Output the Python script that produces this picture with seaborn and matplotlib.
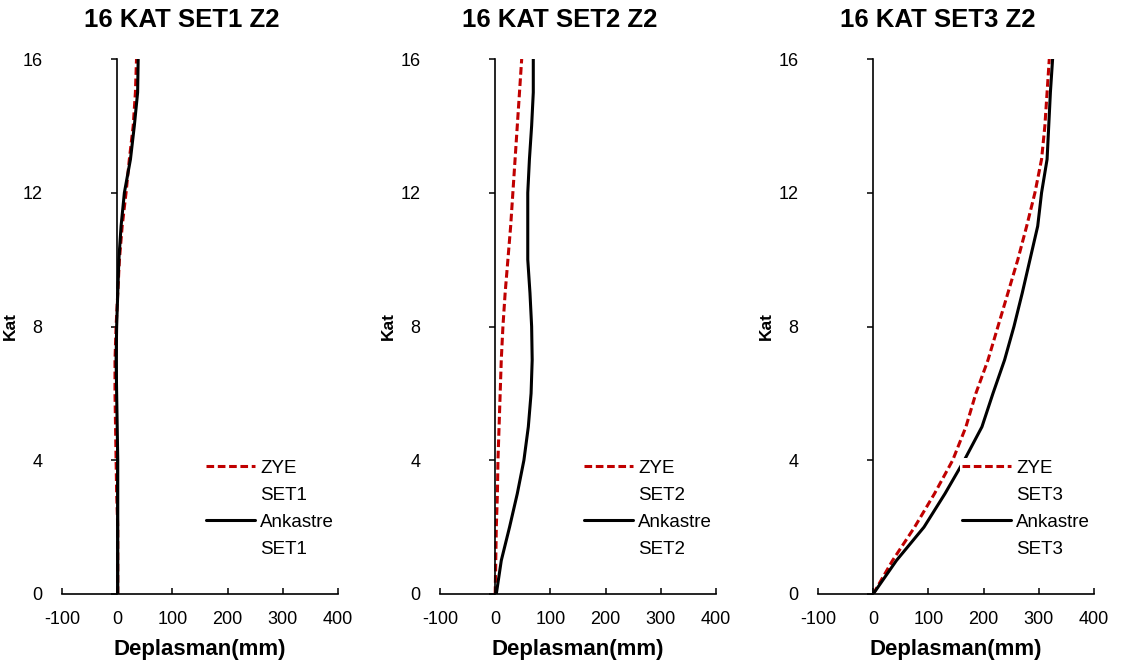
import matplotlib
matplotlib.use("Agg")
import matplotlib.pyplot as plt
import seaborn as sns
from matplotlib.lines import Line2D

# ---- data ----
floors = list(range(17))
titles = ["16 KAT SET1 Z2", "16 KAT SET2 Z2", "16 KAT SET3 Z2"]
set_names = ["SET1", "SET2", "SET3"]

zye_set1 = [1, 1, 1, -1, -2, -3, -4, -4, -2, 1, 4, 9, 16, 22, 29, 33, 35]
ank_set1 = [1, 1, 1, 1, 1, 0, -1, -2, -1, 1, 3, 7, 13, 24, 31, 37, 38]

zye_set2 = [0, 1, 2, 4, 5, 7, 9, 11, 14, 18, 23, 28, 32, 36, 40, 44, 48]
ank_set2 = [2, 11, 26, 40, 52, 60, 65, 67, 66, 63, 59, 59, 59, 62, 66, 69, 69]

zye_set3 = [0, 35, 75, 111, 144, 168, 186, 208, 226, 244, 262, 278, 293, 305, 311, 315, 319]
ank_set3 = [0, 42, 92, 130, 165, 197, 217, 238, 255, 270, 284, 298, 305, 315, 318, 321, 325]

zye_all = [zye_set1, zye_set2, zye_set3]
ank_all = [ank_set1, ank_set2, ank_set3]

x_ticks = [-100, 0, 100, 200, 300, 400]
y_ticks = [0, 4, 8, 12, 16]

# ---- style ----
sns.set_theme(style="white")
plt.rcParams["font.family"] = ["Liberation Sans", "DejaVu Sans"]
plt.rcParams["axes.edgecolor"] = "black"
plt.rcParams["axes.labelcolor"] = "black"
plt.rcParams["text.color"] = "black"
plt.rcParams["xtick.color"] = "black"
plt.rcParams["ytick.color"] = "black"
plt.rcParams["xtick.labelcolor"] = "black"
plt.rcParams["ytick.labelcolor"] = "black"
plt.rcParams["axes.unicode_minus"] = False

RED = "#C00000"
W, H = 1125, 662
fig = plt.figure(figsize=(W / 100, H / 100), dpi=100)

lefts = [62, 440, 818]
ax_w, top_px, bot_px = 276, 59, 594

for i in range(3):
    ax = fig.add_axes([lefts[i] / W, 1 - bot_px / H, ax_w / W, (bot_px - top_px) / H])
    sns.lineplot(x=zye_all[i], y=floors, sort=False, orient="y", estimator=None,
                 color=RED, lw=2.2, linestyle=(0, (2.5, 1.2)), label="ZYE", ax=ax)
    sns.lineplot(x=ank_all[i], y=floors, sort=False, orient="y", estimator=None,
                 color="black", lw=2.2, label="Ankastre", ax=ax)

    ax.set_xlim(-100, 400)
    ax.set_ylim(0, 16)
    ax.set_xticks(x_ticks)
    ax.set_yticks(y_ticks)
    for s in ["top", "right"]:
        ax.spines[s].set_visible(False)
    ax.spines["left"].set_position(("data", 0))
    ax.spines["left"].set_linewidth(1.2)
    ax.spines["bottom"].set_linewidth(1.2)
    ax.tick_params(axis="y", direction="out", length=4.5, width=1.1, labelleft=False, left=True)
    ax.tick_params(axis="x", direction="in", length=4.5, width=1.1, pad=12, labelsize=13, bottom=True)
    ax.set_xlabel("Deplasman(mm)", fontsize=16, fontweight="bold", labelpad=8)
    ax.set_ylabel("Kat", fontsize=12.5, fontweight="bold")
    ax.yaxis.set_label_coords((18 - 62) / ax_w, 0.5)

    sec = ax.secondary_yaxis(0)
    sec.set_yticks(y_ticks)
    sec.tick_params(axis="y", length=0, pad=14, labelsize=13)
    for sp in sec.spines.values():
        sp.set_visible(False)

    h, l = ax.get_legend_handles_labels()
    blank = Line2D([], [], color="none")
    ax.legend([h[0], blank, h[1], blank], ["ZYE", set_names[i], "Ankastre", set_names[i]],
              loc="upper left", bbox_to_anchor=(0.515, 0.255), frameon=True,
              facecolor="white", edgecolor="none", framealpha=1, fontsize=13.5,
              handlelength=2.6, handletextpad=0.3, labelspacing=0.53,
              borderpad=0.1, borderaxespad=0)

    cx = (lefts[i] + ax_w / 2 - 18) / W
    fig.text(cx, 1 - 20 / H, titles[i], ha="center", va="center",
             fontsize=18.5, fontweight="bold")

fig.savefig("out.png", dpi=100, facecolor="white")
